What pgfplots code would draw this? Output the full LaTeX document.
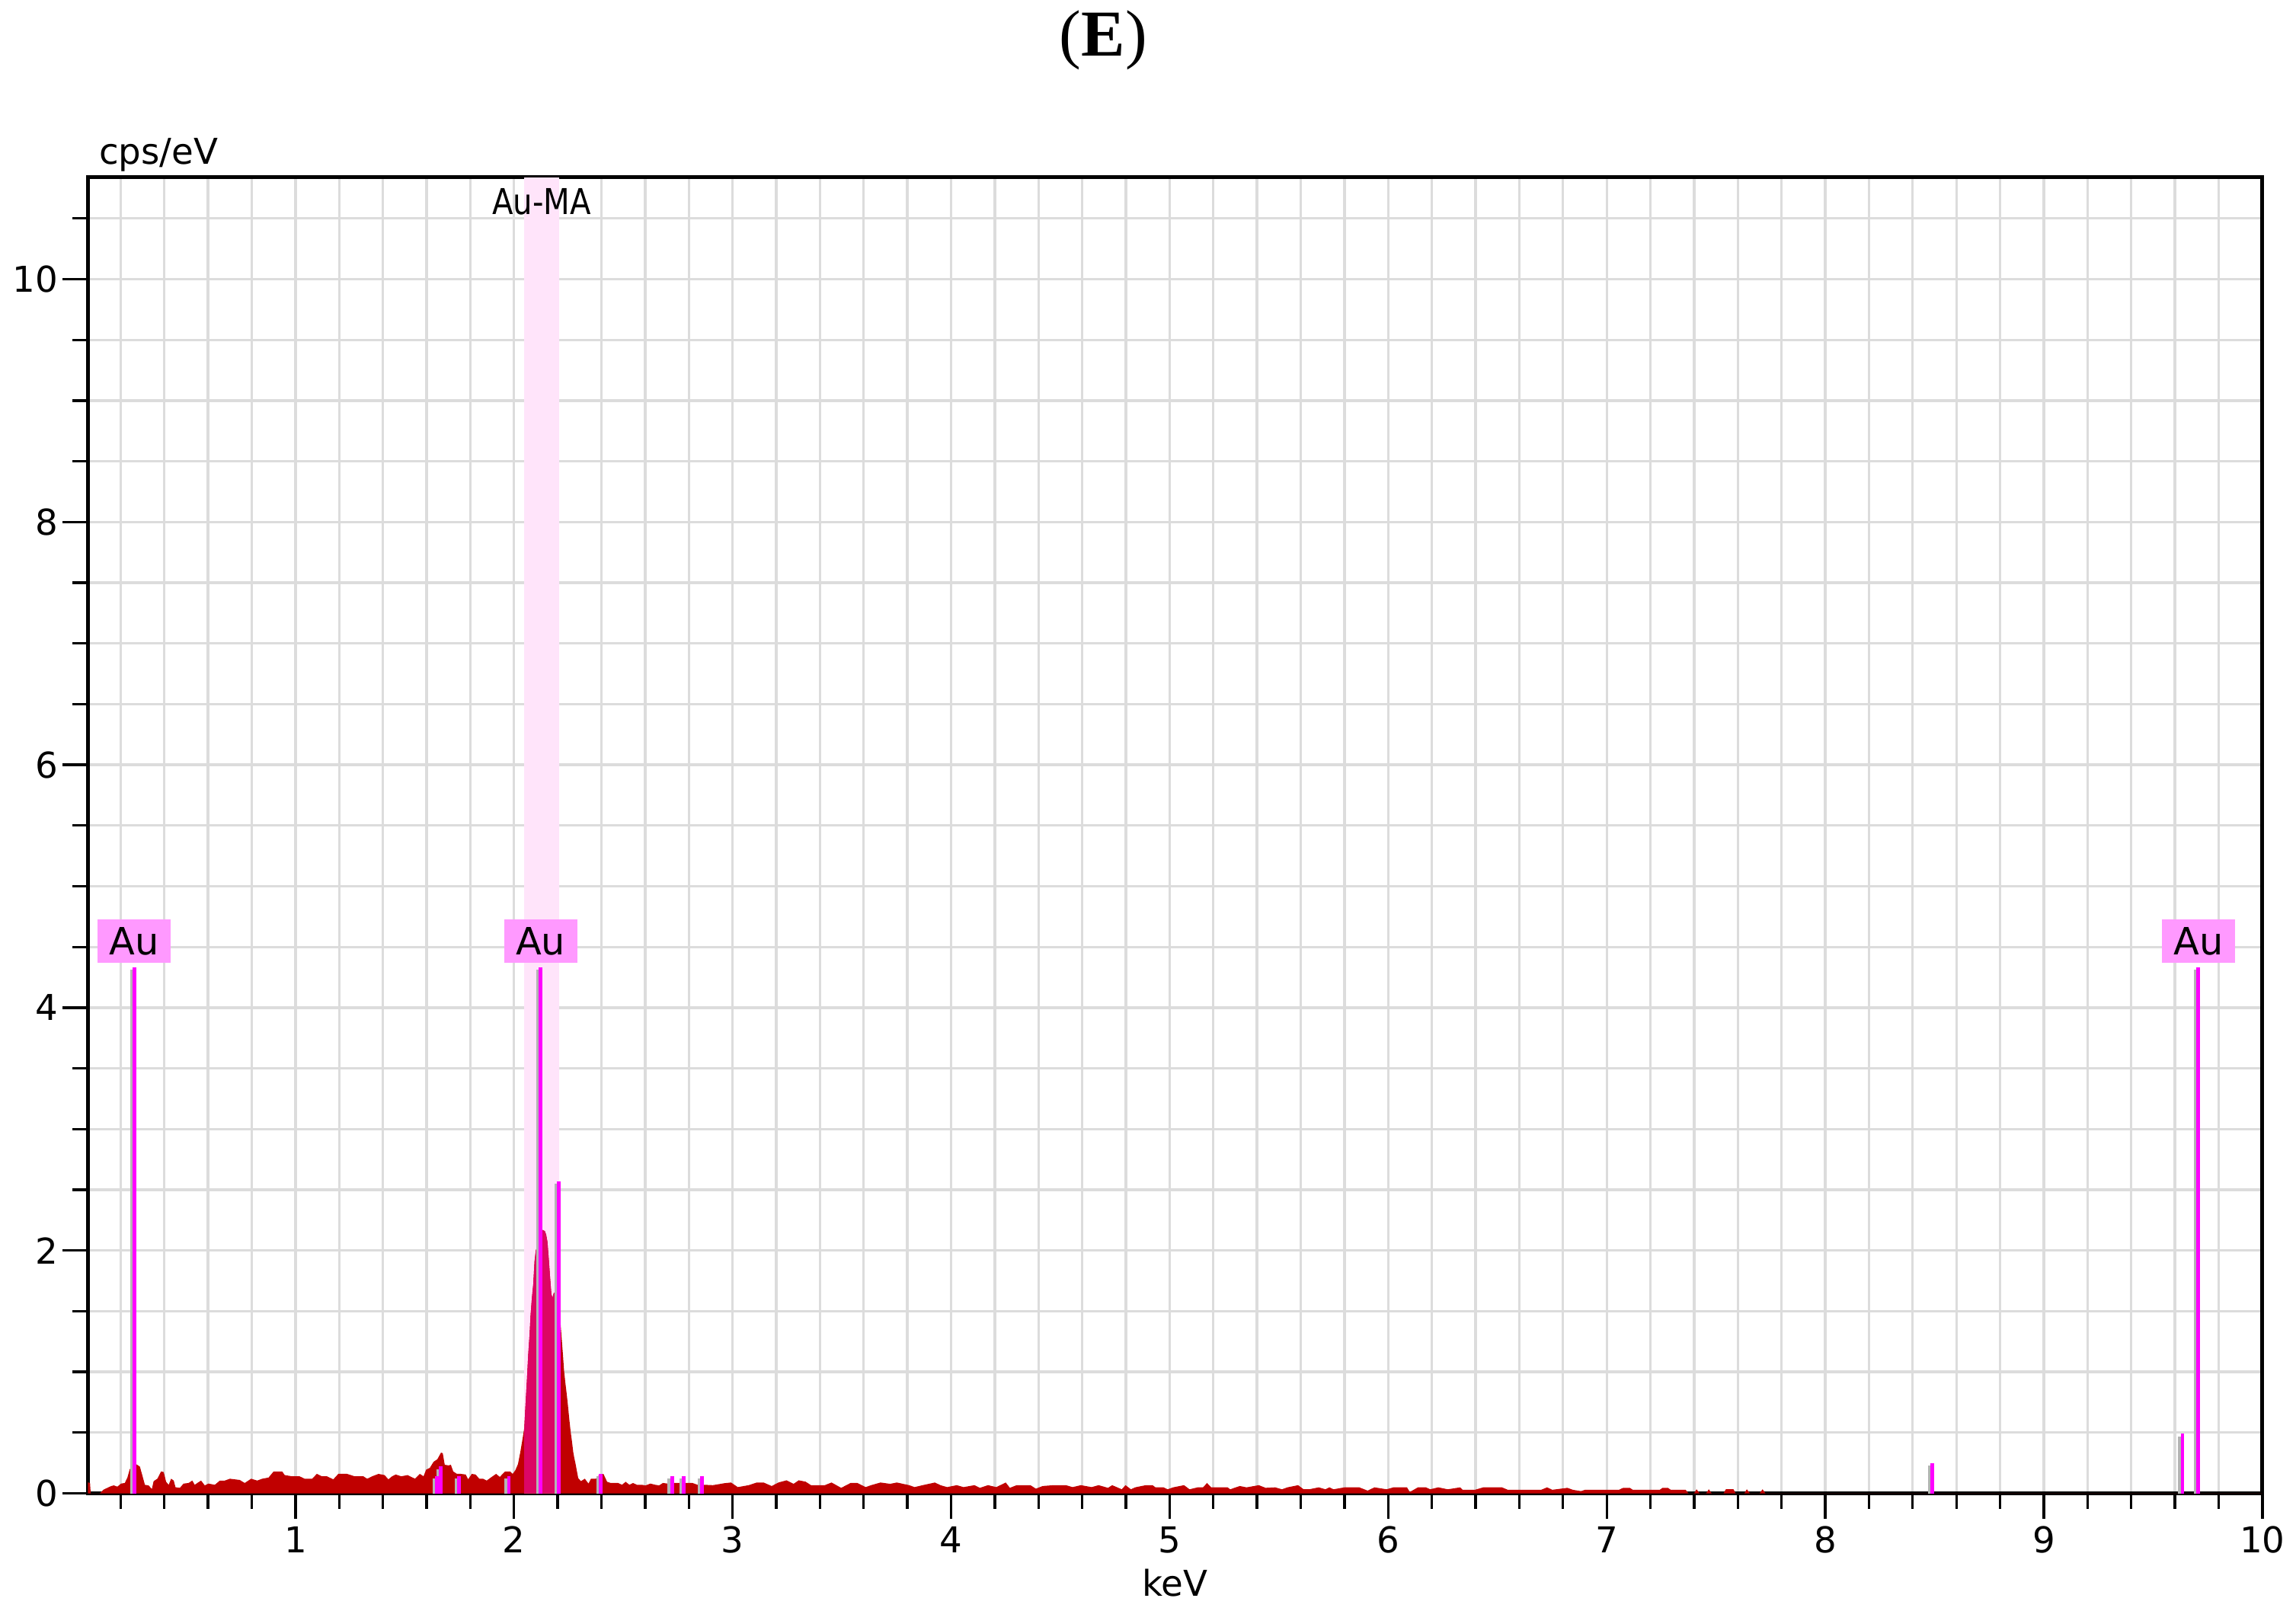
\documentclass[border=0pt]{standalone}
\usepackage{pgfplots}
\pgfplotsset{compat=1.18}
\usepackage{pgfplotstable}
\usepackage{graphicx}
\usepackage{fontspec}
\setmainfont{DejaVu Sans}
\newfontfamily\titlefont{Liberation Serif}

\definecolor{specred}{HTML}{C00000}
\definecolor{roired}{HTML}{DC0664}
\definecolor{bandpink}{HTML}{FFE4FA}
\definecolor{boxpink}{HTML}{FF99FF}
\definecolor{linemag}{HTML}{FF00FF}
\definecolor{shadow}{HTML}{B4B4B4}
\definecolor{gridgray}{HTML}{DCDCDC}

% EDS spectrum, cps/eV against keV
\pgfplotstableread{
kev cps
0.050 0.090
0.060 0.085
0.063 0.000
0.105 0.000
0.111 0.010
0.122 0.030
0.139 0.045
0.157 0.060
0.169 0.065
0.185 0.055
0.202 0.080
0.219 0.085
0.231 0.130
0.242 0.200
0.255 0.210
0.271 0.240
0.288 0.220
0.299 0.150
0.311 0.070
0.328 0.065
0.343 0.035
0.351 0.100
0.368 0.120
0.385 0.180
0.397 0.175
0.408 0.095
0.420 0.070
0.431 0.120
0.443 0.105
0.451 0.050
0.471 0.045
0.488 0.080
0.511 0.085
0.528 0.105
0.539 0.070
0.551 0.085
0.568 0.105
0.585 0.065
0.602 0.080
0.631 0.070
0.654 0.105
0.677 0.105
0.700 0.120
0.722 0.115
0.745 0.110
0.768 0.085
0.797 0.120
0.825 0.105
0.848 0.120
0.877 0.130
0.900 0.180
0.939 0.180
0.951 0.150
0.985 0.140
1.019 0.140
1.042 0.120
1.076 0.120
1.098 0.160
1.121 0.140
1.144 0.140
1.173 0.115
1.196 0.160
1.236 0.160
1.271 0.140
1.311 0.140
1.328 0.120
1.351 0.140
1.380 0.160
1.408 0.150
1.425 0.115
1.442 0.140
1.459 0.155
1.484 0.140
1.513 0.150
1.530 0.135
1.547 0.120
1.569 0.160
1.586 0.140
1.598 0.195
1.615 0.210
1.632 0.260
1.649 0.280
1.666 0.335
1.674 0.330
1.683 0.235
1.700 0.230
1.711 0.235
1.722 0.180
1.739 0.160
1.756 0.160
1.779 0.155
1.790 0.115
1.807 0.160
1.824 0.155
1.841 0.120
1.858 0.120
1.875 0.105
1.898 0.135
1.918 0.160
1.935 0.135
1.959 0.180
1.982 0.180
1.994 0.160
2.006 0.190
2.018 0.240
2.029 0.340
2.041 0.470
2.047 0.540
2.053 0.740
2.059 0.930
2.065 1.140
2.071 1.300
2.076 1.470
2.082 1.610
2.088 1.720
2.094 1.910
2.100 2.000
2.110 2.060
2.120 2.120
2.129 2.170
2.141 2.160
2.147 2.130
2.153 2.070
2.159 1.930
2.165 1.780
2.171 1.640
2.176 1.610
2.182 1.650
2.188 1.650
2.196 1.600
2.204 1.500
2.208 1.440
2.212 1.420
2.218 1.280
2.224 1.140
2.229 1.010
2.235 0.910
2.241 0.820
2.247 0.720
2.253 0.610
2.259 0.510
2.265 0.430
2.271 0.340
2.276 0.290
2.282 0.240
2.288 0.180
2.294 0.125
2.306 0.100
2.324 0.120
2.341 0.080
2.352 0.120
2.375 0.120
2.392 0.155
2.409 0.160
2.426 0.095
2.443 0.085
2.477 0.085
2.494 0.070
2.511 0.095
2.528 0.070
2.545 0.085
2.562 0.070
2.585 0.070
2.602 0.065
2.624 0.080
2.647 0.070
2.664 0.065
2.681 0.085
2.704 0.080
2.732 0.085
2.772 0.085
2.817 0.085
2.840 0.070
2.874 0.070
2.910 0.067
2.962 0.083
2.993 0.089
3.024 0.051
3.074 0.067
3.111 0.089
3.142 0.089
3.179 0.060
3.210 0.089
3.247 0.107
3.279 0.078
3.303 0.107
3.334 0.096
3.359 0.067
3.422 0.067
3.453 0.089
3.497 0.045
3.540 0.085
3.571 0.085
3.609 0.051
3.634 0.067
3.677 0.089
3.721 0.078
3.752 0.089
3.808 0.067
3.833 0.051
3.870 0.067
3.926 0.089
3.951 0.067
3.982 0.051
4.026 0.067
4.057 0.051
4.107 0.067
4.132 0.045
4.169 0.067
4.207 0.051
4.250 0.089
4.269 0.045
4.300 0.067
4.363 0.067
4.388 0.038
4.419 0.060
4.469 0.067
4.525 0.067
4.556 0.051
4.594 0.067
4.643 0.051
4.675 0.067
4.718 0.045
4.737 0.067
4.781 0.033
4.798 0.067
4.823 0.033
4.842 0.049
4.891 0.067
4.922 0.067
4.935 0.049
4.972 0.049
4.991 0.033
5.016 0.049
5.066 0.067
5.091 0.033
5.128 0.049
5.153 0.049
5.171 0.085
5.190 0.049
5.265 0.049
5.277 0.033
5.321 0.060
5.352 0.049
5.408 0.067
5.439 0.045
5.483 0.049
5.514 0.033
5.539 0.049
5.588 0.067
5.613 0.033
5.638 0.033
5.682 0.049
5.713 0.033
5.731 0.049
5.750 0.033
5.800 0.049
5.868 0.049
5.906 0.022
5.937 0.049
5.993 0.033
6.024 0.049
6.086 0.049
6.099 0.011
6.136 0.049
6.173 0.049
6.192 0.033
6.229 0.049
6.273 0.033
6.329 0.049
6.341 0.029
6.397 0.029
6.435 0.049
6.497 0.049
6.521 0.049
6.547 0.029
6.700 0.029
6.727 0.049
6.751 0.029
6.820 0.045
6.845 0.029
6.882 0.018
6.901 0.029
7.056 0.029
7.075 0.045
7.106 0.045
7.119 0.029
7.243 0.029
7.255 0.045
7.280 0.045
7.293 0.029
7.361 0.029
7.374 0.000
7.400 0.000
7.411 0.033
7.425 0.000
7.455 0.000
7.467 0.033
7.480 0.000
7.535 0.000
7.545 0.033
7.580 0.033
7.590 0.000
7.630 0.000
7.641 0.033
7.655 0.000
7.700 0.000
7.713 0.033
7.726 0.000
10.000 0.000
}\spectrum

% element marker lines (keV, height)
\pgfplotstableread{
kev cps
0.263 4.33
1.648 0.14
1.665 0.22
1.748 0.14
1.977 0.14
2.122 4.33
2.205 2.57
2.397 0.16
2.723 0.14
2.777 0.14
2.860 0.14
8.490 0.25
9.634 0.49
9.707 4.33
}\markers

\begin{document}
\begin{tikzpicture}
\begin{axis}[
  name=ax,
  width=427.7pt, height=258.9pt, scale only axis,
  xmin=0.05, xmax=10, ymin=0, ymax=10.84,
  xtick={1,2,...,10}, minor xtick={0.2,0.4,...,9.8},
  ytick={0,2,...,10}, minor ytick={0.5,1,...,10.5},
  grid=both,
  major grid style={gridgray, line width=0.5pt},
  minor grid style={gridgray, line width=0.5pt},
  tick align=outside, tick pos=left,
  major tick length=5pt, minor tick length=3pt,
  tick style={black, line width=0.5pt},
  axis line style={black, line width=0.75pt},
  tick label style={font=\fontsize{7}{8}\selectfont},
  xticklabel style={yshift=2pt},
  yticklabel style={xshift=2.7pt},
  /pgf/number format/assume math mode=true,
  clip=false,
]
\addplot[fill=bandpink, draw=none] coordinates {(2.047,0) (2.047,10.84) (2.208,10.84) (2.208,0)} -- cycle;
\addplot[fill=specred, draw=none] table[x=kev, y=cps] {\spectrum} \closedcycle;
\addplot[fill=roired, draw=none, restrict x to domain=2.047:2.208] table[x=kev, y=cps] {\spectrum} \closedcycle;
\addplot[ycomb, draw=shadow, line width=0.55pt, no markers] table[x expr=\thisrow{kev}-0.014, y expr=\thisrow{cps}-0.02] {\markers};
\addplot[ycomb, draw=linemag, line width=0.7pt, no markers] table[x=kev, y=cps] {\markers};

\foreach \k in {0.263,2.122,9.707}{
  \edef\tmp{\noexpand\node[fill=boxpink, inner sep=0pt, minimum width=14.4pt, minimum height=8.6pt, anchor=south, font=\noexpand\fontsize{7.4}{8}\noexpand\selectfont] at (axis cs:\k,4.36) {Au};}
  \tmp
}
\node[font=\fontsize{7}{8}\selectfont] at (axis cs:2.127,10.64) {\scalebox{0.86}[1]{Au-MA}};
\node[anchor=base west, inner sep=0pt, font=\fontsize{7}{8}\selectfont] at (rel axis cs:0,1) [xshift=2pt, yshift=2.5pt] {cps/eV};
\node[font=\fontsize{7}{8}\selectfont] at (rel axis cs:0.5,0) [yshift=-17.6pt] {keV};
\node[font=\titlefont\fontsize{12.9}{14}\selectfont] at (rel axis cs:0.467,1) [yshift=27pt] {(\textbf{E})};
\end{axis}
\pgfresetboundingbox
\path ([shift={(-17.28pt,-23.04pt)}]ax.south west) rectangle ([shift={(6.62pt,34.85pt)}]ax.north east);
\end{tikzpicture}
\end{document}
